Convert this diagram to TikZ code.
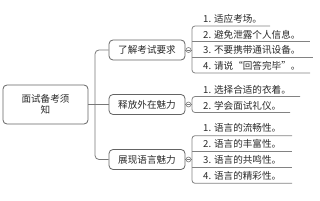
\documentclass[tikz,border=0pt]{standalone}
\usepackage{fontspec}
\setmainfont{Noto Sans CJK SC}
\definecolor{boxc}{RGB}{100,100,100}
\definecolor{linec}{RGB}{120,120,120}
\definecolor{ulc}{RGB}{130,130,130}
\definecolor{txt}{RGB}{40,40,40}
\begin{document}
\begin{tikzpicture}[x=1pt,y=-1pt,
  box/.style={draw=boxc, line width=0.8pt, rounded corners=4pt, text=txt, font=\fontsize{9.6}{10.5}\selectfont, inner sep=0pt, align=center},
  item/.style={anchor=west, inner sep=0pt, text=txt, font=\fontsize{9.6}{10.5}\selectfont},
  conn/.style={draw=linec, line width=0.8pt},
  ul/.style={draw=ulc, line width=0.8pt},
  knob/.style={circle, draw=linec, fill=white, minimum size=5pt, inner sep=0pt, line width=0.6pt}]
\path[use as bounding box] (0,0) rectangle (320,200);
% root and branches
\node[box, minimum width=85pt, minimum height=39pt] (root) at (45.5,104.5) {面试备考须\\知};
\node[box, minimum width=76pt, minimum height=20pt] (b1) at (147,50) {了解考试要求};
\node[box, minimum width=76pt, minimum height=20pt] (b2) at (147,104.5) {释放外在魅力};
\node[box, minimum width=76pt, minimum height=20pt] (b3) at (147,159.5) {展现语言魅力};
\coordinate (trunk) at (95,104.5);
\draw[conn] (root.east) -- (b2.west);
\draw[conn, rounded corners=4pt] (trunk) |- (b1.west);
\draw[conn, rounded corners=4pt] (trunk) |- (b3.west);
% knobs
\node[knob] (k1) at (188.5,50) {};
\node[knob] (k2) at (188.5,104.5) {};
\node[knob] (k3) at (188.5,159.5) {};
\foreach \k in {k1,k2,k3}{
  \draw[linec, line width=0.5pt] ([xshift=1.2pt]\k.west) -- ([xshift=-1.2pt]\k.east);
}
\draw[conn] (b1.east) -- (k1.west);
\draw[conn] (b2.east) -- (k2.west);
\draw[conn] (b3.east) -- (k3.west);
% group 1
\node[item] (i11) at (203,19) {1. 适应考场。};
\node[item] (i12) at (203,34.7) {2. 避免泄露个人信息。};
\node[item] (i13) at (203,50.3) {3. 不要携带通讯设备。};
\node[item] (i14) at (203,66) {4. 请说“回答完毕”。};
\coordinate (g1a) at (192,26);
\coordinate (g1b) at (192,41.7);
\coordinate (g1c) at (192,57.3);
\coordinate (g1d) at (192,73);
\coordinate (e11) at (270,26);
\coordinate (e12) at (310,41.7);
\coordinate (e13) at (313,57.3);
\coordinate (e14) at (310,73);
\draw[ul, rounded corners=3pt] (e11) -- (g1a) -- (g1d) -- (e14);
\draw[ul] (g1b) -- (e12);
\draw[ul] (g1c) -- (e13);
\draw[conn] (k1.east) -- (k1.east -| g1a);
% group 2
\node[item] (i21) at (203,89.5) {1. 选择合适的衣着。};
\node[item] (i22) at (203,105.5) {2. 学会面试礼仪。};
\coordinate (g2a) at (192,96.5);
\coordinate (g2b) at (192,112.5);
\coordinate (e21) at (300,96.5);
\coordinate (e22) at (290,112.5);
\draw[ul, rounded corners=3pt] (e21) -- (g2a) -- (g2b) -- (e22);
\draw[conn] (k2.east) -- (k2.east -| g2a);
% group 3
\node[item] (i31) at (203,128.3) {1. 语言的流畅性。};
\node[item] (i32) at (203,144.3) {2. 语言的丰富性。};
\node[item] (i33) at (203,160) {3. 语言的共鸣性。};
\node[item] (i34) at (203,176) {4. 语言的精彩性。};
\coordinate (g3a) at (192,135.7);
\coordinate (g3b) at (192,151.7);
\coordinate (g3c) at (192,167.3);
\coordinate (g3d) at (192,183.3);
\coordinate (e31) at (292,135.7);
\coordinate (e32) at (292,151.7);
\coordinate (e33) at (292,167.3);
\coordinate (e34) at (292,183.3);
\draw[ul, rounded corners=3pt] (e31) -- (g3a) -- (g3d) -- (e34);
\draw[ul] (g3b) -- (e32);
\draw[ul] (g3c) -- (e33);
\draw[conn] (k3.east) -- (k3.east -| g3a);
\end{tikzpicture}
\end{document}
